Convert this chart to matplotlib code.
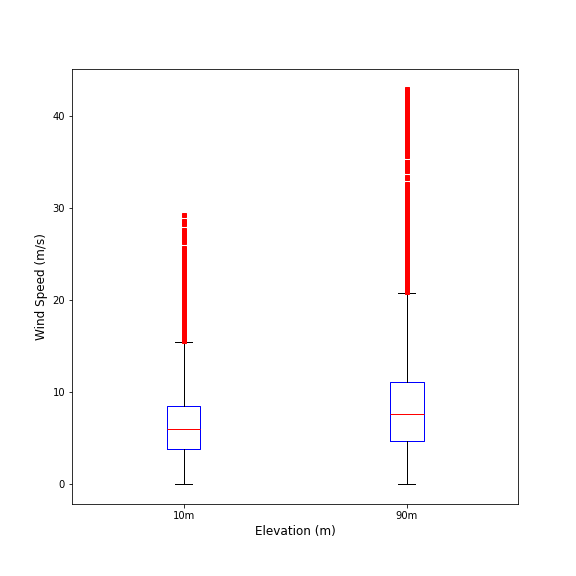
import matplotlib
matplotlib.use("Agg")
import matplotlib.pyplot as plt

LABELS = ["10m", "90m"]

Q1 = [3.8, 4.7]
MEDIAN = [6.0, 7.6]
Q3 = [8.5, 11.1]
WHISKER_LO = [0.0, 0.0]
WHISKER_HI = [15.5, 20.8]

FLIERS_10M = [
    15.6, 15.9, 16.2, 16.5, 16.8, 17.1, 17.4, 17.7, 18.0, 18.3, 18.6,
    18.9, 19.2, 19.5, 19.8, 20.1, 20.4, 20.7, 21.0, 21.3, 21.6, 21.9,
    22.2, 22.5, 22.8, 23.1, 23.4, 23.7, 24.0, 24.3, 24.6, 24.9, 25.2,
    25.4, 25.65, 26.3, 26.6, 26.9, 27.2, 27.5, 27.65, 28.3, 28.6, 29.3,
]

FLIERS_90M = [
    20.9, 21.2, 21.5, 21.8, 22.1, 22.4, 22.7, 23.0, 23.3, 23.6, 23.9,
    24.2, 24.5, 24.8, 25.1, 25.4, 25.7, 26.0, 26.3, 26.6, 26.9, 27.2,
    27.5, 27.8, 28.1, 28.4, 28.7, 29.0, 29.3, 29.6, 29.9, 30.2, 30.5,
    30.8, 31.1, 31.4, 31.7, 32.0, 32.3, 32.5, 32.65, 33.3, 33.45,
    34.1, 34.4, 34.7, 35.0, 35.05, 35.7, 36.0, 36.3, 36.6, 36.9,
    37.2, 37.5, 37.8, 38.1, 38.4, 38.7, 39.0, 39.3, 39.6, 39.9, 40.2,
    40.5, 40.8, 41.1, 41.4, 41.7, 42.0, 42.3, 42.6, 42.9, 43.0,
]

FLIERS = [FLIERS_10M, FLIERS_90M]

stats = []
for i, label in enumerate(LABELS):
    stats.append({
        "label": label,
        "q1": Q1[i],
        "med": MEDIAN[i],
        "q3": Q3[i],
        "whislo": WHISKER_LO[i],
        "whishi": WHISKER_HI[i],
        "fliers": FLIERS[i],
    })

fig, ax = plt.subplots(figsize=(8, 8), dpi=72)
fig.subplots_adjust(bottom=0.125)
parts = ax.bxp(
    stats,
    boxprops=dict(color="blue"),
    medianprops=dict(color="red"),
    flierprops=dict(marker="s", markerfacecolor="red", markeredgecolor="red",
                    markersize=4.5, markeredgewidth=1),
)
for line in parts["medians"]:
    line.set_color("#ff0000")
    line.set_zorder(3)
ax.set_xlabel("Elevation (m)", fontsize=12)
ax.set_ylabel("Wind Speed (m/s)", fontsize=12)

fig.savefig("out.png", dpi=72)
